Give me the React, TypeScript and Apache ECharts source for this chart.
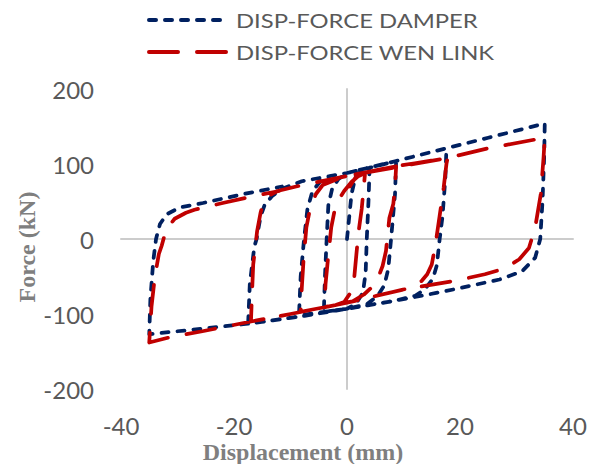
import React, { useEffect, useRef } from 'react';
import * as echarts from 'echarts';

const seriesNames = ['DISP-FORCE DAMPER', 'DISP-FORCE WEN LINK'];
const xTitle = 'Displacement (mm)';
const yTitle = 'Force (kN)';
const xRange = [-40, 40];
const xStep = 20;
const yRange = [-200, 200];
const yStep = 100;

const damper: [number, number][] = [
  [0, 0], [0.8, 60], [1.6, 86], [4, 95],
  [3.8, 50], [3.5, 0], [3.3, -45], [2.8, -72], [1.5, -87], [0, -93], [-2, -95], [-4.1, -97],
  [-3.9, -50], [-3.6, 0], [-3.3, 45], [-2.6, 68], [-1.5, 80], [0, 88], [4, 95], [8.7, 104],
  [8.5, 60], [7.8, 0], [7.3, -40], [6.6, -62], [5.4, -76], [3.5, -87], [0, -93], [-4, -97], [-8.5, -102],
  [-8.2, -50], [-7.6, 0], [-7, 40], [-6.1, 64], [-4.6, 78], [-3, 84], [0, 88], [8.7, 104], [17.6, 121],
  [17.4, 80], [16.9, 30], [16.4, 0], [15.9, -35], [15.2, -53], [13.8, -67], [12, -76], [8, -83], [0, -93], [-8, -103], [-17.5, -113],
  [-17.2, -60], [-16.4, -10], [-16, 0], [-15.3, 30], [-14.6, 45], [-13.3, 57], [-11.5, 67], [-8, 77], [0, 88], [8.7, 104], [17.6, 121], [25, 135], [35, 154],
  [34.9, 110], [34.6, 50], [34.2, 0], [33.3, -25], [31, -43], [27, -54], [19, -67], [14.4, -74], [8, -83], [0, -93], [-8, -103], [-17.5, -113], [-25, -119], [-35, -127],
  [-34.8, -80], [-34.3, -30], [-33.8, 0], [-33.1, 20], [-31.9, 33], [-29.6, 42], [-25.5, 48], [-18.3, 60], [-11.5, 70],
];

const wenLink: [number, number][] = [
  [0.5, 70], [1.5, 82], [3.2, 88],
  [2.6, 40], [2, 7], [1.3, -50], [0.6, -72], [-0.5, -84], [-2, -88], [-4, -91],
  [-3.8, -60], [-3.4, -29], [-2.8, 15], [-2.2, 38], [-1.6, 51], [-0.5, 64], [0.8, 76], [2, 84], [4, 90], [8.7, 97],
  [8.5, 70], [8.2, 47], [7.5, 28], [6.9, -16], [6.3, -36], [5.5, -52], [4.3, -65], [3, -74], [1, -83], [-1, -86], [-4, -91], [-8.2, -97],
  [-8, -65], [-7.7, -29], [-7.2, 15], [-6.5, 42], [-5.5, 60], [-4.3, 72], [-2, 79], [0, 84], [4, 90], [8.7, 97], [12, 101], [17.8, 108],
  [17.6, 100], [17.1, 68], [16.4, 31], [15.6, -10], [15, -34], [14.2, -47], [13.2, -56], [11.8, -63], [10.2, -67], [5, -76], [0, -85], [-10, -100], [-17, -110],
  [-16.8, -70], [-16.6, -34], [-15.9, 11], [-15.3, 35], [-14.7, 51], [-13.5, 59], [-12.3, 64], [-9, 70], [0, 84], [9.6, 97], [17.8, 108], [25, 121], [35, 135],
  [34.8, 110], [34.3, 60], [33.3, 15], [32.2, -12], [30.5, -27], [28, -39], [24.4, -47], [19, -56], [10.2, -67], [0, -85], [-10, -100], [-17, -110], [-25.6, -123], [-30.8, -130], [-35, -138],
  [-34.6, -90], [-34, -50], [-33.3, -20], [-32.8, -9], [-32, 13], [-30.5, 27], [-28.5, 35], [-27, 39], [-22, 48], [-16, 58], [-12, 64],
];

const NAVY = '#002060';
const RED = '#C00000';
const GRAY_TEXT = '#595959';
const AXIS_GRAY = '#cccccc';
const LABEL_FONT = 'Lato';
const LINE_W = 3.75;
const DAMPER_DASH = [7, 9];
const WEN_DASH = [29, 19];

export default function App() {
  const ref = useRef<HTMLDivElement>(null);
  useEffect(() => {
    if (!ref.current) return;
    const chart = echarts.init(ref.current, null, { renderer: 'svg' });
    const baseAxis = { type: 'value' as const, splitLine: { show: false }, axisTick: { show: false } };
    const legendRows = [
      { name: seriesNames[0], color: NAVY, dash: DAMPER_DASH, y: 20 },
      { name: seriesNames[1], color: RED, dash: WEN_DASH, y: 52 },
    ];
    const legendGraphics = legendRows.flatMap((r) => [
      {
        type: 'line', silent: true,
        shape: { x1: 149, y1: r.y, x2: 227, y2: r.y },
        style: { stroke: r.color, lineWidth: 4, lineDash: r.dash, lineCap: 'round' },
      },
      {
        type: 'text', x: 236, y: r.y, scaleX: 1.19, silent: true,
        style: { text: r.name, fill: GRAY_TEXT, font: `20px ${LABEL_FONT}`, textAlign: 'left', textVerticalAlign: 'middle' },
      },
    ]);
    chart.setOption({
      animation: false,
      backgroundColor: '#ffffff',
      grid: { left: 121, top: 89, width: 452, height: 300, containLabel: false },
      legend: { show: false, data: seriesNames },
      xAxis: [
        {
          ...baseAxis, min: xRange[0], max: xRange[1], interval: xStep,
          axisLine: { show: true, onZero: true, lineStyle: { color: AXIS_GRAY, width: 2 } },
          axisLabel: { show: false },
        },
        {
          ...baseAxis, min: xRange[0], max: xRange[1], interval: xStep, position: 'bottom',
          axisLine: { show: false, onZero: false },
          axisLabel: { color: GRAY_TEXT, fontSize: 24, fontFamily: LABEL_FONT, margin: 24 },
        },
      ],
      yAxis: [
        {
          ...baseAxis, min: yRange[0], max: yRange[1], interval: yStep,
          axisLine: { show: true, onZero: true, lineStyle: { color: AXIS_GRAY, width: 2 } },
          axisLabel: { show: false },
        },
        {
          ...baseAxis, min: yRange[0], max: yRange[1], interval: yStep, position: 'left',
          axisLine: { show: false, onZero: false },
          axisLabel: { color: GRAY_TEXT, fontSize: 24, fontFamily: LABEL_FONT, margin: 27 },
        },
      ],
      graphic: [
        ...legendGraphics,
        {
          type: 'text', x: 27, y: 247, rotation: Math.PI / 2,
          style: { text: yTitle, fill: '#7f7f7f', font: 'bold 24px "Liberation Serif"', textAlign: 'center', textVerticalAlign: 'middle' },
        },
        {
          type: 'text', x: 303, y: 452,
          style: { text: xTitle, fill: '#7f7f7f', font: 'bold 24px "Liberation Serif"', textAlign: 'center', textVerticalAlign: 'middle' },
        },
      ],
      series: [
        {
          name: seriesNames[0], type: 'line', data: damper, showSymbol: false, symbol: 'none', z: 3,
          lineStyle: { color: NAVY, width: LINE_W, type: DAMPER_DASH, cap: 'round', join: 'round' },
          itemStyle: { color: NAVY },
        },
        {
          name: seriesNames[1], type: 'line', data: wenLink, showSymbol: false, symbol: 'none', z: 4,
          lineStyle: { color: RED, width: LINE_W, type: WEN_DASH, cap: 'round', join: 'round' },
          itemStyle: { color: RED },
        },
      ],
    });
    return () => chart.dispose();
  }, []);
  return <div ref={ref} style={{ position: 'fixed', left: 0, top: 0, width: 598, height: 464 }} />;
}
